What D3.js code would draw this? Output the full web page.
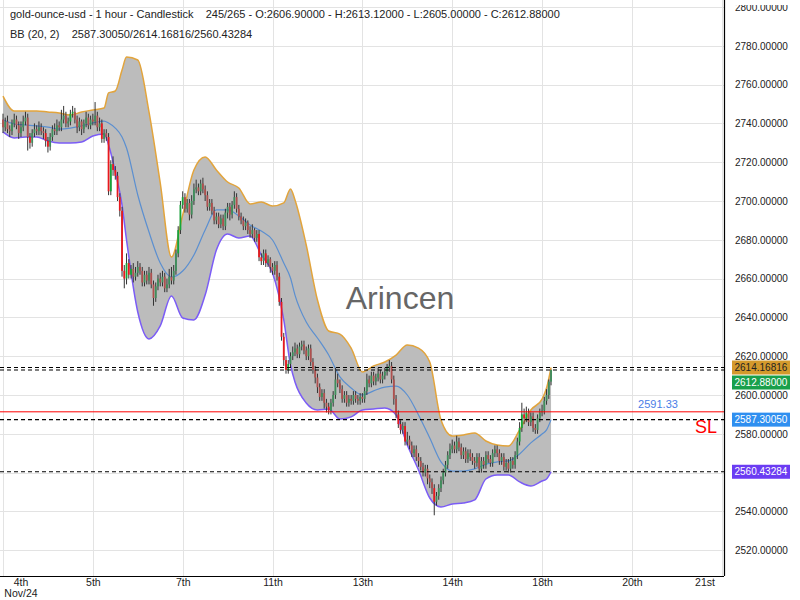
<!DOCTYPE html>
<html><head><meta charset="utf-8">
<script src="https://cdn.jsdelivr.net/npm/d3@7"></script>
<style>
body{margin:0;background:#fff}
svg{display:block;font-family:"Liberation Sans",Arial,sans-serif}
</style>
</head><body>
<svg id="c" width="800" height="600"></svg>
<script>
// ---- DATA ----
const opens = [
2742,2738,2741,2737,2736,2740,2742,2739,2735,2738,
2741,2743,2733,2730,2735,2737,2736,2738,2736,2735,
2731,2728,2733,2737,2736,2739,2738,2742,2744,2740,
2741,2745,2746,2742,2738,2741,2737,2740,2743,2739,
2742,2741,2744,2738,2740,2732,2735,2733,2705,2719,
2716,2713,2702,2695,2664,2660,2668,2662,2665,2661,
2663,2666,2664,2658,2662,2659,2663,2657,2650,2656,
2660,2658,2661,2655,2657,2661,2659,2664,2673,2685,
2698,2702,2696,2699,2693,2700,2706,2707,2705,2709,
2706,2703,2697,2699,2695,2690,2692,2688,2691,2687,
2694,2697,2693,2698,2702,2696,2692,2690,2687,2689,
2685,2683,2685,2681,2683,2671,2669,2673,2668,2670,
2666,2664,2667,2661,2648,2630,2618,2613,2616,2620,
2622,2624,2621,2625,2626,2623,2620,2624,2617,2613,
2609,2604,2599,2601,2596,2594,2592,2596,2600,2608,
2606,2603,2598,2600,2596,2598,2597,2600,2598,2597,
2599,2598,2602,2608,2606,2610,2607,2609,2611,2608,
2610,2612,2614,2615,2608,2598,2590,2585,2582,2584,
2576,2577,2574,2570,2572,2568,2566,2563,2560,2562,
2557,2555,2552,2545,2548,2552,2556,2560,2564,2569,
2572,2574,2572,2576,2573,2569,2571,2567,2570,2568,
2566,2565,2568,2562,2566,2564,2569,2567,2565,2570,
2572,2570,2566,2568,2563,2565,2562,2566,2564,2569,
2576,2583,2590,2588,2591,2586,2589,2583,2582,2588,
2591,2592,2597,2600,2606.9];
const highs = [
2745,2743,2744,2739,2742,2745,2744,2741,2741,2744,
2746,2745,2735,2737,2740,2739,2741,2740,2738,2737,
2733,2735,2739,2740,2742,2741,2747,2749,2746,2743,
2747,2749,2748,2744,2743,2742,2742,2746,2745,2744,
2745,2751,2746,2743,2742,2737,2737,2735,2721,2723,
2718,2715,2704,2697,2667,2673,2670,2667,2668,2666,
2669,2668,2666,2664,2664,2666,2665,2659,2658,2662,
2663,2664,2663,2660,2665,2666,2667,2675,2687,2700,
2705,2704,2701,2701,2703,2709,2711,2709,2711,2712,
2708,2705,2701,2701,2697,2694,2694,2693,2693,2696,
2699,2699,2700,2705,2704,2698,2694,2692,2691,2690,
2687,2688,2686,2685,2685,2673,2675,2675,2672,2671,
2668,2669,2669,2663,2650,2632,2620,2618,2622,2625,
2627,2626,2627,2628,2628,2625,2626,2626,2619,2615,
2611,2606,2603,2603,2598,2596,2598,2602,2614,2611,
2608,2605,2602,2602,2600,2600,2602,2602,2600,2601,
2601,2604,2611,2610,2612,2612,2611,2614,2613,2612,
2614,2616,2618,2617,2610,2600,2592,2587,2586,2586,
2581,2579,2576,2574,2574,2570,2568,2565,2564,2564,
2559,2557,2554,2550,2554,2558,2562,2566,2571,2575,
2577,2576,2579,2578,2575,2573,2573,2572,2572,2570,
2568,2570,2570,2568,2568,2571,2571,2569,2572,2574,
2574,2572,2570,2570,2567,2567,2568,2568,2571,2578,
2586,2596,2593,2594,2593,2591,2591,2585,2590,2593,
2595,2599,2603,2608,2613.12];
const lows = [
2735,2736,2735,2733,2734,2738,2737,2732,2733,2736,
2739,2726,2727,2728,2733,2734,2734,2734,2732,2728,
2725,2726,2731,2734,2734,2736,2736,2740,2738,2738,
2739,2743,2740,2735,2736,2734,2735,2738,2737,2737,
2739,2739,2736,2736,2730,2730,2731,2703,2703,2713,
2711,2700,2692,2661,2655,2657,2660,2660,2658,2659,
2661,2662,2656,2656,2657,2657,2655,2646,2648,2654,
2656,2656,2653,2653,2655,2657,2657,2662,2671,2683,
2696,2694,2694,2690,2691,2698,2704,2703,2703,2704,
2700,2695,2695,2693,2688,2688,2686,2686,2685,2685,
2691,2690,2691,2696,2694,2690,2688,2685,2685,2683,
2681,2681,2679,2679,2669,2667,2667,2666,2666,2663,
2662,2662,2659,2646,2628,2615,2611,2611,2614,2618,
2620,2619,2619,2623,2621,2618,2618,2615,2611,2606,
2601,2597,2597,2593,2591,2590,2590,2594,2598,2604,
2601,2596,2596,2594,2594,2595,2595,2596,2595,2595,
2596,2596,2600,2604,2604,2605,2605,2607,2606,2606,
2608,2610,2612,2606,2595,2588,2583,2580,2580,2574,
2574,2572,2568,2568,2566,2563,2561,2558,2558,2554,
2552,2549,2538,2543,2546,2550,2554,2558,2562,2567,
2570,2570,2570,2571,2567,2567,2565,2565,2566,2564,
2562,2563,2560,2560,2562,2562,2565,2563,2563,2568,
2568,2564,2564,2561,2561,2560,2560,2562,2562,2567,
2574,2581,2585,2586,2584,2584,2581,2580,2580,2586,
2589,2590,2595,2598,2605];
const closes = [
2738,2741,2737,2736,2740,2742,2739,2735,2738,2741,
2743,2733,2730,2735,2737,2736,2738,2736,2735,2731,
2728,2733,2737,2736,2739,2738,2742,2744,2740,2741,
2745,2746,2742,2738,2741,2737,2740,2743,2739,2742,
2741,2744,2738,2740,2732,2735,2733,2705,2719,2716,
2713,2702,2695,2664,2660,2668,2662,2665,2661,2663,
2666,2664,2658,2662,2659,2663,2657,2650,2656,2660,
2658,2661,2655,2657,2661,2659,2664,2673,2685,2698,
2702,2696,2699,2693,2700,2706,2707,2705,2709,2706,
2703,2697,2699,2695,2690,2692,2688,2691,2687,2694,
2697,2693,2698,2702,2696,2692,2690,2687,2689,2685,
2683,2685,2681,2683,2671,2669,2673,2668,2670,2666,
2664,2667,2661,2648,2630,2618,2613,2616,2620,2622,
2624,2621,2625,2626,2623,2620,2624,2617,2613,2609,
2604,2599,2601,2596,2594,2592,2596,2600,2608,2606,
2603,2598,2600,2596,2598,2597,2600,2598,2597,2599,
2598,2602,2608,2606,2610,2607,2609,2611,2608,2610,
2612,2614,2615,2608,2598,2590,2585,2582,2584,2576,
2577,2574,2570,2572,2568,2566,2563,2560,2562,2557,
2555,2552,2545,2548,2552,2556,2560,2564,2569,2572,
2574,2572,2576,2573,2569,2571,2567,2570,2568,2566,
2565,2568,2562,2566,2564,2569,2567,2565,2570,2572,
2570,2566,2568,2563,2565,2562,2566,2564,2569,2576,
2583,2590,2588,2591,2586,2589,2583,2582,2588,2591,
2592,2597,2600,2606.9,2612.88];

// Bollinger band (20,2) readings at these bar indices
const bbIdx = [0,5,10,15,20,25,30,35,40,45,47,50,53,55,60,65,70,75,80,85,90,95,100,105,110,115,120,125,128,
  130,135,140,145,150,155,160,165,170,175,180,185,190,195,200,205,210,215,220,225,230,235,240,242,244];
const bbUpper = [2754.1,2746.4,2746.4,2746.4,2745.9,2745.4,2744.3,2745.9,2746.9,2747.9,2755.7,2756.7,2767.5,2774.2,
  2772.7,2745.9,2709.3,2671.1,2692.8,2716.0,2722.7,2716.0,2709.8,2706.7,2698.5,2699.5,2697.4,2699.0,2706.2,
  2700.5,2677.3,2649.0,2633.0,2631.4,2624.2,2611.9,2615.0,2617.0,2620.6,2625.8,2624.2,2617.0,2587.1,2578.9,
  2579.4,2580.4,2576.3,2574.2,2573.7,2582.0,2592.3,2597.9,2603.6,2614.16816];
const bbMiddle = [2741.8,2739.7,2739.2,2738.7,2738.1,2737.1,2737.6,2738.7,2740.2,2741.2,2740.2,2737.6,2733.0,2727.3,
  2703.1,2684.0,2668.0,2660.8,2663.9,2672.2,2685.1,2695.4,2695.4,2692.3,2687.6,2684.5,2679.9,2668.0,2660.3,
  2651.5,2637.6,2629.4,2620.6,2609.3,2603.6,2600.0,2602.1,2604.1,2604.6,2600.0,2589.7,2577.8,2565.5,2560.8,
  2560.8,2561.9,2564.4,2565.5,2566.0,2569.6,2575.3,2579.9,2582.0,2587.30050];
const bbLower = [2735.6,2732.5,2733.0,2733.0,2730.9,2729.9,2729.9,2730.4,2733.5,2734.5,2728.9,2715.0,2697.9,2679.9,
  2642.8,2628.9,2635.6,2651.0,2639.7,2638.7,2651.5,2674.7,2683.0,2680.9,2682.0,2672.2,2662.9,2638.7,2615.5,
  2606.7,2595.9,2592.3,2592.8,2587.6,2588.7,2592.3,2592.8,2593.3,2589.7,2574.2,2561.3,2546.9,2542.3,2543.8,
  2544.3,2545.9,2556.7,2558.8,2558.8,2555.2,2553.1,2555.7,2556.7,2560.43284];

const xTickIdx = [0,40,80,120,160,200,240,280,320];
const xTickLabels = ["4th","5th","7th","11th","13th","14th","18th","20th","21st"];
const monthLabel = "Nov/24";
const yTicks = d3.range(2500, 2801, 20);
const stopLoss = 2591.33;
const lastClose = 2612.88;
const titleText = "gold-ounce-usd - 1 hour - Candlestick    245/265 - O:2606.90000 - H:2613.12000 - L:2605.00000 - C:2612.88000";
const bbText = "BB (20, 2)    2587.30050/2614.16816/2560.43284";
const watermark = "Arincen";

// ---- CHART ----
const svg = d3.select("#c");
const plotR = 724, plotB = 576;
const x = d3.scaleLinear().domain([0, 321]).range([3, 724]);
const y = d3.scaleLinear().domain([2500, 2800]).range([589, 7]);

const defs = svg.append("defs");
defs.append("clipPath").attr("id","plot")
  .append("rect").attr("x",0).attr("y",0).attr("width",plotR).attr("height",plotB);
defs.append("clipPath").attr("id","yax")
  .append("rect").attr("x",0).attr("y",5).attr("width",80).attr("height",plotB-4);

// grid
const grid = svg.append("g").attr("clip-path","url(#plot)");
grid.selectAll("line.h").data(yTicks).join("line")
  .attr("x1",0).attr("x2",plotR)
  .attr("y1",d=>Math.round(y(d))+0.5).attr("y2",d=>Math.round(y(d))+0.5)
  .attr("stroke","#e3e3e3").attr("stroke-width",1);
grid.selectAll("line.v").data(xTickIdx).join("line")
  .attr("y1",0).attr("y2",plotB)
  .attr("x1",d=>Math.round(x(d))+0.5).attr("x2",d=>Math.round(x(d))+0.5)
  .attr("stroke","#e3e3e3").attr("stroke-width",1);

// watermark
svg.append("text").attr("x",400).attr("y",309).attr("text-anchor","middle")
  .attr("font-size",32).attr("fill","#666").text(watermark);

// bands
const bb = bbIdx.map((i,k)=>({i, up:bbUpper[k], mid:bbMiddle[k], lo:bbLower[k]}));
const gp = svg.append("g").attr("clip-path","url(#plot)");
gp.append("path").datum(bb)
  .attr("d", d3.area().x(d=>x(d.i)).y0(d=>y(d.lo)).y1(d=>y(d.up)).curve(d3.curveMonotoneX))
  .attr("fill","#bcbcbc");
gp.append("path").datum(bb)
  .attr("d", d3.line().x(d=>x(d.i)).y(d=>y(d.up)).curve(d3.curveMonotoneX))
  .attr("fill","none").attr("stroke","#e2a43c").attr("stroke-width",1.5);
gp.append("path").datum(bb)
  .attr("d", d3.line().x(d=>x(d.i)).y(d=>y(d.lo)).curve(d3.curveMonotoneX))
  .attr("fill","none").attr("stroke","#7b5cf6").attr("stroke-width",1.5);
gp.append("path").datum(bb)
  .attr("d", d3.line().x(d=>x(d.i)).y(d=>y(d.mid)).curve(d3.curveMonotoneX))
  .attr("fill","none").attr("stroke","#5b8fd0").attr("stroke-width",1.2);

// candles
const upAt = d3.scaleLinear().domain(bbIdx).range(bbUpper);
const loAt = d3.scaleLinear().domain(bbIdx).range(bbLower);
const candles = closes.map((c,i)=>({i,o:opens[i],h:highs[i],l:lows[i],c}));
const cg = gp.append("g");
cg.selectAll("line.w").data(candles).join("line")
  .attr("x1",d=>x(d.i)).attr("x2",d=>x(d.i))
  .attr("y1",d=>y(d.h)).attr("y2",d=>y(d.l))
  .attr("stroke","#333").attr("stroke-width",1);
cg.selectAll("rect").data(candles).join("rect")
  .attr("x",d=>x(d.i)-0.9).attr("width",1.8)
  .attr("y",d=>y(Math.max(d.o,d.c)))
  .attr("height",d=>Math.max(1,Math.abs(y(d.o)-y(d.c))))
  .attr("fill",d=>{
    const out = d.c>upAt(d.i) || d.c<loAt(d.i);
    if (d.c>=d.o) return out ? "#17a63a" : "#3f8f5c";
    return out ? "#e8191e" : "#b0504e";
  });

// level lines
const dashed = [bbUpper[bbUpper.length-1], lastClose, bbMiddle[bbMiddle.length-1], bbLower[bbLower.length-1]];
gp.selectAll("line.d").data(dashed).join("line")
  .attr("x1",0).attr("x2",plotR).attr("y1",d=>y(d)).attr("y2",d=>y(d))
  .attr("stroke","#000").attr("stroke-width",1.2).attr("stroke-dasharray","4,3");
gp.append("line").attr("x1",0).attr("x2",plotR).attr("y1",y(stopLoss)).attr("y2",y(stopLoss))
  .attr("stroke","#ff0000").attr("stroke-width",1);
svg.append("text").attr("x",658).attr("y",y(stopLoss)-3.5).attr("text-anchor","middle")
  .attr("font-size",11).attr("fill","#4a7de6").text(stopLoss.toFixed(2));
svg.append("text").attr("x",706).attr("y",y(stopLoss)+21).attr("text-anchor","middle")
  .attr("font-size",18).attr("fill","#ff0000").text("SL");

// axes
const xa = svg.append("g").attr("transform",`translate(0,${plotB})`)
  .call(d3.axisBottom(x).tickValues(xTickIdx).tickFormat((d,k)=>xTickLabels[k]).tickSize(0).tickPadding(3));
xa.select(".domain").remove();
xa.selectAll("text").attr("font-size",10.5).attr("fill","#222").attr("font-family",null);
xa.selectAll(".tick").filter((d,k)=>k===0).attr("transform","translate(21,0)");
xa.selectAll(".tick").filter((d,k)=>k===xTickIdx.length-1).attr("transform","translate(705,0)");
xa.selectAll(".tick").filter((d,k)=>k===0).append("text")
  .attr("y",13.5).attr("dy","0.71em").attr("text-anchor","middle").attr("fill","#222")
  .attr("font-size",10.5).text(monthLabel);
svg.append("line").attr("x1",0).attr("x2",plotR).attr("y1",plotB+0.5).attr("y2",plotB+0.5)
  .attr("stroke","#000").attr("stroke-width",1.2);

const ya = svg.append("g").attr("transform",`translate(${plotR},0)`).attr("clip-path","url(#yax)")
  .call(d3.axisRight(y).tickValues(yTicks).tickFormat(d3.format(".5f")).tickSize(0).tickPadding(11));
ya.select(".domain").remove();
ya.selectAll("text").attr("font-size",10).attr("fill","#222").attr("font-family",null);
svg.append("line").attr("x1",plotR+0.5).attr("x2",plotR+0.5).attr("y1",0).attr("y2",plotB)
  .attr("stroke","#000").attr("stroke-width",1.2);

// price badges
const badges = [
  {v:bbUpper[bbUpper.length-1], bg:"#d49a2c", fg:"#222"},
  {v:lastClose, bg:"#19a04b", fg:"#fff"},
  {v:bbMiddle[bbMiddle.length-1], bg:"#2f8ff0", fg:"#fff"},
  {v:bbLower[bbLower.length-1], bg:"#6b3cf3", fg:"#fff"}
];
let prev = -1e9;
badges.forEach(b=>{ let cy = y(b.v); if (cy < prev+15) cy = prev+15; b.cy = cy; prev = cy; });
const bgG = svg.append("g");
bgG.selectAll("rect").data(badges).join("rect")
  .attr("x",732).attr("width",58).attr("y",d=>d.cy-7).attr("height",14).attr("fill",d=>d.bg);
bgG.selectAll("text").data(badges).join("text")
  .attr("x",734.5).attr("y",d=>d.cy).attr("dy","0.35em").attr("font-size",10)
  .attr("fill",d=>d.fg).text(d=>d3.format(".5f")(d.v));

// header
svg.append("text").attr("x",10).attr("y",18).attr("font-size",11).attr("fill","#222")
  .style("white-space","pre").text(titleText);
svg.append("text").attr("x",10).attr("y",38).attr("font-size",11).attr("fill","#222")
  .style("white-space","pre").text(bbText);
</script>
</body></html>
